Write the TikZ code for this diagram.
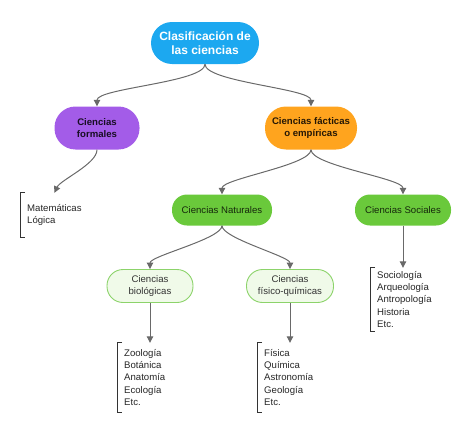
\documentclass[tikz,border=0pt]{standalone}
\usepackage{fontspec}
\setmainfont{Liberation Sans}
\usepackage{tikz}
\usetikzlibrary{arrows.meta}
\definecolor{cielo}{RGB}{28,168,240}
\definecolor{lila}{RGB}{163,92,232}
\definecolor{naranja}{RGB}{255,164,30}
\definecolor{verde}{RGB}{106,201,59}
\definecolor{verdeclaro}{RGB}{240,250,233}
\definecolor{verdeborde}{RGB}{140,211,106}
\definecolor{gris}{RGB}{105,105,105}
\tikzset{
    % cajas redondeadas
    pill/.style={
        rounded corners=15pt,
        align=center,
        inner sep=2pt
    },
    bigbox/.style={
        pill,
        rounded corners=21pt,
        font=\bfseries\fontsize{9.6}{12.3}\selectfont,
        minimum height=43pt
    },
    greenbox/.style={
        pill,
        fill=verde,
        text=black!80!verde,
        font=\fontsize{9.6}{12.2}\selectfont,
        minimum height=31pt
    },
    lightbox/.style={
        pill,
        rounded corners=16pt,
        fill=verdeclaro,
        draw=verdeborde,
        line width=0.9pt,
        text=black!80,
        font=\fontsize{9.6}{12.2}\selectfont,
        minimum height=33pt
    },
    lista/.style={
        anchor=west,
        align=left,
        inner xsep=7pt,
        inner ysep=0pt,
        text=black!85,
        font=\fontsize{9.6}{12.2}\selectfont
    },
    bracket/.style={
        line width=0.8pt,
        black!80
    },
    grayarrow/.style={
        line width=1pt,
        gris,
        -{Triangle[length=6.5pt, width=6.5pt]}
    },
    % curvas suaves
    curva/.style={
        grayarrow,
        out=-90, in=90, looseness=0.4
    }
}
\begin{document}
\begin{tikzpicture}[x=1pt,y=-1pt]
    \useasboundingbox (0,0) rectangle (474,431);

    \node[bigbox, fill=cielo, text=white, minimum width=108pt, minimum height=42pt,
          font=\bfseries\fontsize{12}{14}\selectfont] (root) at (205,43) {Clasificación de\\las ciencias};
    \node[bigbox, fill=lila, text=black!85!lila, minimum width=85pt] (formal) at (97,128) {Ciencias\\formales};
    \node[bigbox, fill=naranja, text=black!85!naranja, minimum width=92pt] (factica) at (311,128) {Ciencias fácticas\\o empíricas};

    \node[greenbox, minimum width=100pt] (natural) at (222,210) {Ciencias Naturales};
    \node[greenbox, minimum width=96pt] (social) at (403,210) {Ciencias Sociales};

    \node[lightbox, minimum width=86pt] (bio) at (150,286) {Ciencias\\biológicas};
    \node[lightbox, minimum width=87pt] (fisico) at (290,286) {Ciencias\\físico-químicas};

    \node[lista, minimum height=44pt] (mate) at (20,215) {Matemáticas\\Lógica};
    \node[lista, minimum height=69pt] (zoo) at (117,377.5) {Zoología\\Botánica\\Anatomía\\Ecología\\Etc.};
    \node[lista, minimum height=69pt] (fis) at (257,377.5) {Física\\Química\\Astronomía\\Geología\\Etc.};
    \node[lista, minimum height=63pt] (socio) at (370,299.5) {Sociología\\Arqueología\\Antropología\\Historia\\Etc.};

    \foreach \l in {mate,zoo,fis,socio}
        \draw[bracket] ([xshift=5pt]\l.north west) -- (\l.north west) -- (\l.south west) -- ([xshift=5pt]\l.south west);

    \draw[curva] (root.south) to (formal.north);
    \draw[curva] (root.south) to (factica.north);
    \draw[curva, in=65, looseness=0.6] (formal.south) to (mate.north);
    \draw[curva] (factica.south) to (natural.north);
    \draw[curva] (factica.south) to (social.north);
    \draw[curva] (natural.south) to (bio.north);
    \draw[curva] (natural.south) to (fisico.north);
    \draw[grayarrow] (social.south) -- (social |- socio.north);
    \draw[grayarrow] (bio.south) -- (bio |- zoo.north);
    \draw[grayarrow] (fisico.south) -- (fisico |- fis.north);
\end{tikzpicture}
\end{document}
